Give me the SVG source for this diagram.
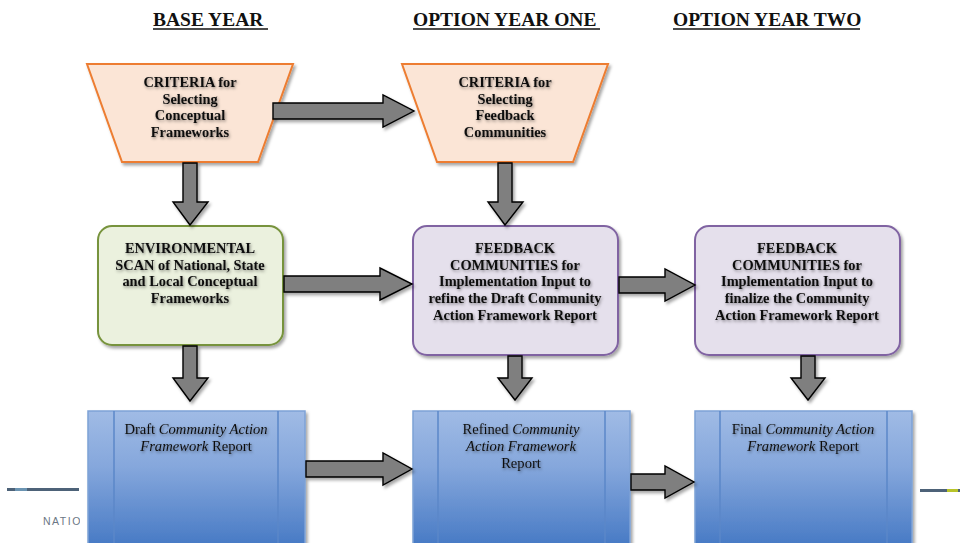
<svg xmlns="http://www.w3.org/2000/svg" width="960" height="543" viewBox="0 0 960 543">
<defs>
<filter id="sh" x="-10%" y="-10%" width="130%" height="130%">
<feDropShadow dx="2" dy="2.5" stdDeviation="1.8" flood-color="#000" flood-opacity="0.35"/>
</filter>
<filter id="tsh" x="-10%" y="-30%" width="120%" height="160%">
<feDropShadow dx="1" dy="1.5" stdDeviation="1.5" flood-color="#000" flood-opacity="0.45"/>
</filter>
<linearGradient id="blue" x1="0" y1="0" x2="0" y2="1">
<stop offset="0" stop-color="#a0bbe5"/>
<stop offset="0.4" stop-color="#85a7dc"/>
<stop offset="1" stop-color="#4377c3"/>
</linearGradient>
<clipPath id="ftclip"><rect x="0" y="500" width="80" height="43"/></clipPath>
<style>
.hdr{font-family:"Liberation Serif","Times New Roman",serif;font-weight:bold;font-size:19.5px;fill:#111;}
.ul{stroke:#111;stroke-width:1.6;}
.trap{fill:#fbe5d6;stroke:#ed7d31;stroke-width:2;}
.green{fill:#ebf1de;stroke:#77933c;stroke-width:2;}
.purple{fill:#e5e0ec;stroke:#8064a2;stroke-width:2;}
.bbox{fill:url(#blue);stroke:#7ea2d6;stroke-width:1.5;}
.bline{stroke:#5b87c8;stroke-width:1.5;}
.bt{font-family:"Liberation Serif","Times New Roman",serif;font-weight:bold;font-size:14.4px;fill:#111;text-anchor:middle;}
.rt{font-family:"Liberation Serif","Times New Roman",serif;font-size:14.6px;fill:#111;text-anchor:middle;}
.arr{fill:#7f7f7f;stroke:#000;stroke-width:1.4;stroke-linejoin:miter;}
</style>
</defs>
<rect width="960" height="543" fill="#fff"/>

<!-- headers -->
<g id="headers">
<text class="hdr" x="153" y="26">BASE YEAR</text>
<line class="ul" x1="153" y1="29" x2="268" y2="29"/>
<text class="hdr" x="413" y="26">OPTION YEAR ONE</text>
<line class="ul" x1="413" y1="29" x2="600" y2="29"/>
<text class="hdr" x="673" y="26">OPTION YEAR TWO</text>
<line class="ul" x1="673" y1="29" x2="860" y2="29"/>
</g>

<!-- footer -->
<g id="footer">
<rect x="7" y="488" width="72" height="3" fill="#4d6278"/>
<rect x="15" y="488" width="12" height="3" fill="#6b94b2"/>
<text x="43" y="525" clip-path="url(#ftclip)" font-family="Liberation Sans, Arial, sans-serif" font-size="10.5" letter-spacing="1.5" fill="#6b7785">NATIO</text>
<rect x="920" y="489" width="40" height="3" fill="#4d6278"/>
<rect x="947" y="489" width="11" height="3" fill="#b8c42a"/>
</g>

<!-- nodes -->
<g id="criteria1" filter="url(#sh)">
<polygon class="trap" points="87,64 293,64 258,162 122,162"/>
<g filter="url(#tsh)">
<text class="bt" x="190" y="87">CRITERIA for</text>
<text class="bt" x="190" y="104">Selecting</text>
<text class="bt" x="190" y="120">Conceptual</text>
<text class="bt" x="190" y="137">Frameworks</text>
</g>
</g>

<g id="criteria2" filter="url(#sh)">
<polygon class="trap" points="402,64 608,64 573,162 437,162"/>
<g filter="url(#tsh)">
<text class="bt" x="505" y="87">CRITERIA for</text>
<text class="bt" x="505" y="104">Selecting</text>
<text class="bt" x="505" y="120">Feedback</text>
<text class="bt" x="505" y="137">Communities</text>
</g>
</g>

<g id="envscan" filter="url(#sh)">
<rect class="green" x="98" y="226" width="185" height="119" rx="14"/>
<g filter="url(#tsh)">
<text class="bt" x="190" y="253">ENVIRONMENTAL</text>
<text class="bt" x="190" y="270">SCAN of National, State</text>
<text class="bt" x="190" y="286">and Local Conceptual</text>
<text class="bt" x="190" y="303">Frameworks</text>
</g>
</g>

<g id="feedback1" filter="url(#sh)">
<rect class="purple" x="413" y="226" width="205" height="129" rx="14"/>
<g filter="url(#tsh)">
<text class="bt" x="515" y="253">FEEDBACK</text>
<text class="bt" x="515" y="270">COMMUNITIES for</text>
<text class="bt" x="515" y="286">Implementation Input to</text>
<text class="bt" x="515" y="303">refine the Draft Community</text>
<text class="bt" x="515" y="320">Action Framework Report</text>
</g>
</g>

<g id="feedback2" filter="url(#sh)">
<rect class="purple" x="695" y="226" width="205" height="129" rx="14"/>
<g filter="url(#tsh)">
<text class="bt" x="797" y="253">FEEDBACK</text>
<text class="bt" x="797" y="270">COMMUNITIES for</text>
<text class="bt" x="797" y="286">Implementation Input to</text>
<text class="bt" x="797" y="303">finalize the Community</text>
<text class="bt" x="797" y="320">Action Framework Report</text>
</g>
</g>

<g id="report1" filter="url(#sh)">
<rect class="bbox" x="88" y="411" width="217" height="140"/>
<line class="bline" x1="114" y1="411" x2="114" y2="551"/>
<line class="bline" x1="278" y1="411" x2="278" y2="551"/>
<g filter="url(#tsh)">
<text class="rt" x="196" y="434">Draft <tspan font-style="italic">Community Action</tspan></text>
<text class="rt" x="196" y="451"><tspan font-style="italic">Framework</tspan> Report</text>
</g>
</g>

<g id="report2" filter="url(#sh)">
<rect class="bbox" x="413" y="411" width="217" height="140"/>
<line class="bline" x1="438" y1="411" x2="438" y2="551"/>
<line class="bline" x1="605" y1="411" x2="605" y2="551"/>
<g filter="url(#tsh)">
<text class="rt" x="521" y="434">Refined <tspan font-style="italic">Community</tspan></text>
<text class="rt" x="521" y="451"><tspan font-style="italic">Action Framework</tspan></text>
<text class="rt" x="521" y="468">Report</text>
</g>
</g>

<g id="report3" filter="url(#sh)">
<rect class="bbox" x="695" y="411" width="217" height="140"/>
<line class="bline" x1="720" y1="411" x2="720" y2="551"/>
<line class="bline" x1="887" y1="411" x2="887" y2="551"/>
<g filter="url(#tsh)">
<text class="rt" x="803" y="434">Final <tspan font-style="italic">Community Action</tspan></text>
<text class="rt" x="803" y="451"><tspan font-style="italic">Framework</tspan> Report</text>
</g>
</g>

<!-- connectors -->
<g id="connectors" filter="url(#sh)">
<polygon class="arr" points="273,103 383,103 383,95 414,111 383,127 383,119 273,119"/>
<polygon class="arr" points="284,276 380,276 380,268 412,284 380,300 380,292 284,292"/>
<polygon class="arr" points="619,277 665,277 665,269 695,285 665,301 665,293 619,293"/>
<polygon class="arr" points="306,461 383,461 383,453 412,469 383,485 383,477 306,477"/>
<polygon class="arr" points="631,474 665,474 665,466 694,482 665,498 665,490 631,490"/>
<polygon class="arr" points="183,163 197,163 197,202 208,202 190,225 173,202 183,202"/>
<polygon class="arr" points="498,163 512,163 512,202 523,202 505,225 488,202 498,202"/>
<polygon class="arr" points="183,346 197,346 197,378 208,378 190,401 173,378 183,378"/>
<polygon class="arr" points="508,356 522,356 522,378 532,378 515,400 498,378 508,378"/>
<polygon class="arr" points="801,356 815,356 815,378 825,378 808,400 791,378 801,378"/>
</g>
</svg>
